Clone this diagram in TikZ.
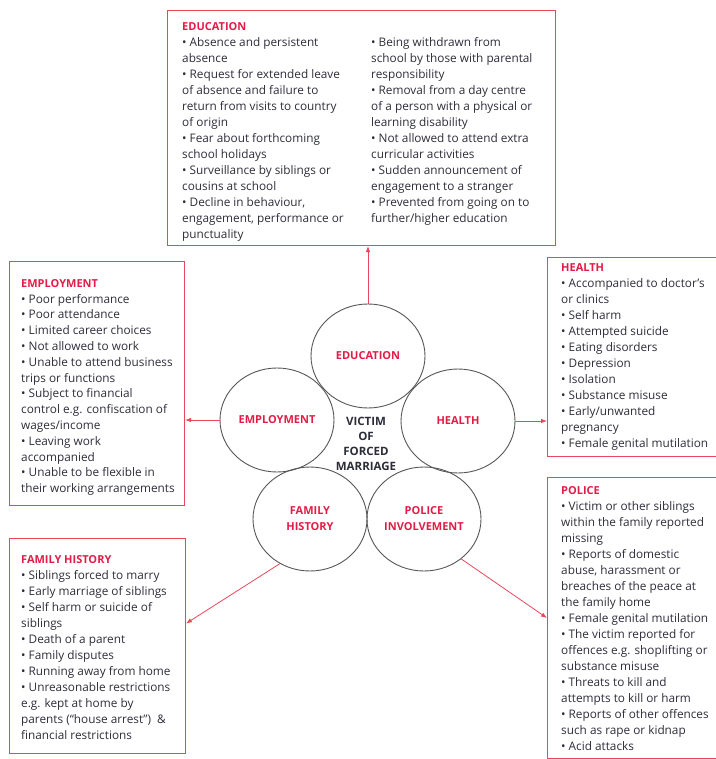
\documentclass[tikz,border=0pt]{standalone}
\usepackage{fontspec}
\setmainfont{Open Sans}
\usetikzlibrary{arrows.meta,shapes.geometric}
\definecolor{hred}{RGB}{226,28,70}
\definecolor{bred}{RGB}{232,72,92}
\definecolor{txt}{RGB}{45,45,58}
\definecolor{cgray}{RGB}{85,85,85}
\newcommand{\boxhead}[1]{\rule{0pt}{11pt}{\color{hred}\bfseries\fontsize{11}{16}\selectfont #1}}
\newcommand{\firstl}{\rule{0pt}{11pt}}
\begin{document}
\begin{tikzpicture}[x=1pt,y=-1pt,
  infobox/.style={draw=bred,line width=1pt,inner sep=0pt,anchor=north west},
  listtext/.style={anchor=north west,inner sep=0pt,align=left,text=txt,font=\fontsize{11.8}{16}\selectfont},
  topic/.style={ellipse,draw=cgray,line width=0.9pt,minimum width=114pt,minimum height=104pt,inner sep=0pt,text=hred,font=\bfseries\fontsize{11}{16}\selectfont,align=center},
  link/.style={draw=bred,line width=0.8pt,-{Latex[length=6pt,width=4.5pt]}}]
\useasboundingbox (0,0) rectangle (715,759);
% boxes
\node[infobox,minimum width=388pt,minimum height=235pt] (edubox) at (167,10) {};
\node[infobox,minimum width=175pt,minimum height=244pt] (empbox) at (9,261) {};
\node[infobox,minimum width=175pt,minimum height=199pt] (heabox) at (547,257) {};
\node[infobox,minimum width=175pt,minimum height=281pt] (polbox) at (547,477) {};
\node[infobox,minimum width=176pt,minimum height=215pt] (fambox) at (9,538) {};
% texts
\node[listtext] (edul) at (182,19) {\boxhead{EDUCATION}\\
• Absence and persistent\\
absence\\
• Request for extended leave\\
of absence and failure to\\
return from visits to country\\
of origin\\
• Fear about forthcoming\\
school holidays\\
• Surveillance by siblings or\\
cousins at school\\
• Decline in behaviour,\\
engagement, performance or\\
punctuality};
\node[listtext] (edur) at (371,35) {\firstl• Being withdrawn from\\
school by those with parental\\
responsibility\\
• Removal from a day centre\\
of a person with a physical or\\
learning disability\\
• Not allowed to attend extra\\
curricular activities\\
• Sudden announcement of\\
engagement to a stranger\\
• Prevented from going on to\\
further/higher education};
\node[listtext,font=\fontsize{11.8}{15.8}\selectfont] (empt) at (21,276) {\boxhead{EMPLOYMENT}\\
• Poor performance\\
• Poor attendance\\
• Limited career choices\\
• Not allowed to work\\
• Unable to attend business\\
trips or functions\\
• Subject to financial\\
control e.g. confiscation of\\
wages/income\\
• Leaving work\\
accompanied\\
• Unable to be flexible in\\
their working arrangements};
\node[listtext] (heat) at (561,260) {\boxhead{HEALTH}\\
• Accompanied to doctor’s\\
or clinics\\
• Self harm\\
• Attempted suicide\\
• Eating disorders\\
• Depression\\
• Isolation\\
• Substance misuse\\
• Early/unwanted\\
pregnancy\\
• Female genital mutilation};
\node[listtext] (polt) at (561,483) {\boxhead{POLICE}\\
• Victim or other siblings\\
within the family reported\\
missing\\
• Reports of domestic\\
abuse, harassment or\\
breaches of the peace at\\
the family home\\
• Female genital mutilation\\
• The victim reported for\\
offences e.g. shoplifting or\\
substance misuse\\
• Threats to kill and\\
attempts to kill or harm\\
• Reports of other offences\\
such as rape or kidnap\\
• Acid attacks};
\node[listtext] (famt) at (21,552) {\boxhead{FAMILY HISTORY}\\
• Siblings forced to marry\\
• Early marriage of siblings\\
• Self harm or suicide of\\
siblings\\
• Death of a parent\\
• Family disputes\\
• Running away from home\\
• Unreasonable restrictions\\
e.g. kept at home by\\
parents (“house arrest”) ~\&\\
financial restrictions};
% circles
\node[topic] (edu) at (368,356) {EDUCATION};
\node[topic] (emp) at (277,420) {EMPLOYMENT};
\node[topic] (hea) at (458,421) {HEALTH};
\node[topic] (fam) at (310,519) {FAMILY\\HISTORY};
\node[topic] (pol) at (424,519) {POLICE\\INVOLVEMENT};
\node[text=txt,font=\bfseries\fontsize{11.5}{15}\selectfont,align=center] (victim) at (366,443.5) {VICTIM\\OF\\FORCED\\MARRIAGE};
% links
\draw[link] (edu.north) -- (edu.north |- edubox.south);
\draw[link] (emp.west) -- (emp.west -| empbox.east);
\draw[link] (hea.east) -- (hea.east -| heabox.west);
\draw[link] (fam.236) -- ([yshift=22.5pt]fambox.east);
\draw[link] (pol.313) -- (polbox.west);
\end{tikzpicture}
\end{document}
